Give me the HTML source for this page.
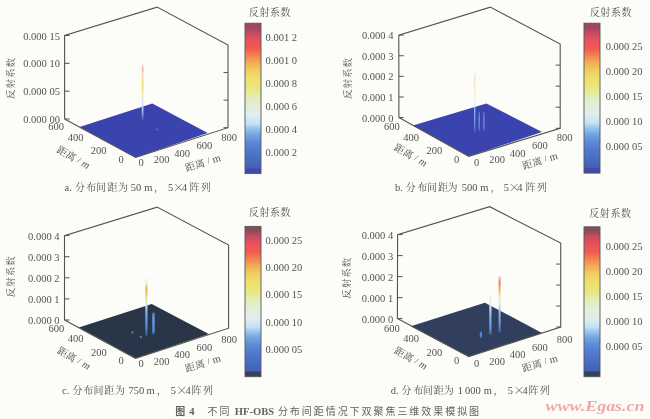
<!DOCTYPE html><html><head><meta charset="utf-8"><style>html,body{margin:0;padding:0;background:#fcfcf9;}svg{display:block;filter:blur(0.35px)}</style></head><body>
<svg style="font-family:'Liberation Serif', 'Noto Serif CJK SC', serif;fill:#50544e" width="650" height="419" viewBox="0 0 650 419">
<rect width="650" height="419" fill="#fcfcf9"/>
<defs>
<linearGradient id="cba" x1="0" y1="0" x2="0" y2="1">
<stop offset="0" stop-color="#a0485c"/>
<stop offset="0.03" stop-color="#a0485c"/>
<stop offset="0.06" stop-color="#be4c62"/>
<stop offset="0.09" stop-color="#d64e60"/>
<stop offset="0.12" stop-color="#ec5258"/>
<stop offset="0.17" stop-color="#f05a52"/>
<stop offset="0.22" stop-color="#f2884e"/>
<stop offset="0.27" stop-color="#f4b058"/>
<stop offset="0.32" stop-color="#f0d062"/>
<stop offset="0.37" stop-color="#eee06c"/>
<stop offset="0.44" stop-color="#e8e884"/>
<stop offset="0.49" stop-color="#e4ecb8"/>
<stop offset="0.55" stop-color="#e2eed8"/>
<stop offset="0.61" stop-color="#e0eef0"/>
<stop offset="0.67" stop-color="#c4e0f4"/>
<stop offset="0.7" stop-color="#98c4ee"/>
<stop offset="0.74" stop-color="#74a6e2"/>
<stop offset="0.79" stop-color="#5c8ad6"/>
<stop offset="0.85" stop-color="#4e78ca"/>
<stop offset="0.92" stop-color="#4669c0"/>
<stop offset="0.96" stop-color="#4262b8"/>
<stop offset="0.97" stop-color="#4448ac"/>
<stop offset="1" stop-color="#4448ac"/>
</linearGradient>
<linearGradient id="cbb" x1="0" y1="0" x2="0" y2="1">
<stop offset="0" stop-color="#a0485c"/>
<stop offset="0.03" stop-color="#a0485c"/>
<stop offset="0.06" stop-color="#be4c62"/>
<stop offset="0.09" stop-color="#d64e60"/>
<stop offset="0.12" stop-color="#ec5258"/>
<stop offset="0.17" stop-color="#f05a52"/>
<stop offset="0.22" stop-color="#f2884e"/>
<stop offset="0.27" stop-color="#f4b058"/>
<stop offset="0.32" stop-color="#f0d062"/>
<stop offset="0.37" stop-color="#eee06c"/>
<stop offset="0.44" stop-color="#e8e884"/>
<stop offset="0.49" stop-color="#e4ecb8"/>
<stop offset="0.55" stop-color="#e2eed8"/>
<stop offset="0.61" stop-color="#e0eef0"/>
<stop offset="0.67" stop-color="#c4e0f4"/>
<stop offset="0.7" stop-color="#98c4ee"/>
<stop offset="0.74" stop-color="#74a6e2"/>
<stop offset="0.79" stop-color="#5c8ad6"/>
<stop offset="0.85" stop-color="#4e78ca"/>
<stop offset="0.92" stop-color="#4669c0"/>
<stop offset="0.96" stop-color="#4262b8"/>
<stop offset="0.97" stop-color="#4448ac"/>
<stop offset="1" stop-color="#4448ac"/>
</linearGradient>
<linearGradient id="cbc" x1="0" y1="0" x2="0" y2="1">
<stop offset="0" stop-color="#8c4c56"/>
<stop offset="0.03" stop-color="#8c4c56"/>
<stop offset="0.06" stop-color="#be4c62"/>
<stop offset="0.09" stop-color="#d64e60"/>
<stop offset="0.12" stop-color="#ec5258"/>
<stop offset="0.17" stop-color="#f05a52"/>
<stop offset="0.22" stop-color="#f2884e"/>
<stop offset="0.27" stop-color="#f4b058"/>
<stop offset="0.32" stop-color="#f0d062"/>
<stop offset="0.37" stop-color="#eee06c"/>
<stop offset="0.44" stop-color="#e8e884"/>
<stop offset="0.49" stop-color="#e4ecb8"/>
<stop offset="0.55" stop-color="#e2eed8"/>
<stop offset="0.61" stop-color="#e0eef0"/>
<stop offset="0.67" stop-color="#c4e0f4"/>
<stop offset="0.7" stop-color="#98c4ee"/>
<stop offset="0.74" stop-color="#74a6e2"/>
<stop offset="0.79" stop-color="#5c8ad6"/>
<stop offset="0.85" stop-color="#4e78ca"/>
<stop offset="0.92" stop-color="#4669c0"/>
<stop offset="0.96" stop-color="#4262b8"/>
<stop offset="0.97" stop-color="#36425c"/>
<stop offset="1" stop-color="#36425c"/>
</linearGradient>
<linearGradient id="cbd" x1="0" y1="0" x2="0" y2="1">
<stop offset="0" stop-color="#8c4c56"/>
<stop offset="0.03" stop-color="#8c4c56"/>
<stop offset="0.06" stop-color="#be4c62"/>
<stop offset="0.09" stop-color="#d64e60"/>
<stop offset="0.12" stop-color="#ec5258"/>
<stop offset="0.17" stop-color="#f05a52"/>
<stop offset="0.22" stop-color="#f2884e"/>
<stop offset="0.27" stop-color="#f4b058"/>
<stop offset="0.32" stop-color="#f0d062"/>
<stop offset="0.37" stop-color="#eee06c"/>
<stop offset="0.44" stop-color="#e8e884"/>
<stop offset="0.49" stop-color="#e4ecb8"/>
<stop offset="0.55" stop-color="#e2eed8"/>
<stop offset="0.61" stop-color="#e0eef0"/>
<stop offset="0.67" stop-color="#c4e0f4"/>
<stop offset="0.7" stop-color="#98c4ee"/>
<stop offset="0.74" stop-color="#74a6e2"/>
<stop offset="0.79" stop-color="#5c8ad6"/>
<stop offset="0.85" stop-color="#4e78ca"/>
<stop offset="0.92" stop-color="#4669c0"/>
<stop offset="0.96" stop-color="#4262b8"/>
<stop offset="0.97" stop-color="#36425c"/>
<stop offset="1" stop-color="#36425c"/>
</linearGradient>
</defs>
<g id="pa"><polygon points="135.6,157.5 79.5,127 152.3,103.4 207.7,133" fill="#3b43ae"/><polyline points="64.6,119 64.6,35.5 157.1,7.1 228,45 228,127.7 135.6,157.5 64.6,119" fill="none" stroke="#51564a" stroke-width="1.1" stroke-linejoin="miter"/><line x1="64.6" y1="35.5" x2="69.6" y2="35.5" stroke="#51564a" stroke-width="1"/><text x="59.9" y="36.1" text-anchor="end" font-size="10.5" dominant-baseline="central">0.000 15</text><line x1="64.6" y1="63.33" x2="69.6" y2="63.33" stroke="#51564a" stroke-width="1"/><line x1="223.5" y1="72.57" x2="228" y2="72.57" stroke="#51564a" stroke-width="1"/><text x="59.9" y="63.93" text-anchor="end" font-size="10.5" dominant-baseline="central">0.000 10</text><line x1="64.6" y1="91.17" x2="69.6" y2="91.17" stroke="#51564a" stroke-width="1"/><line x1="223.5" y1="100.13" x2="228" y2="100.13" stroke="#51564a" stroke-width="1"/><text x="59.9" y="91.77" text-anchor="end" font-size="10.5" dominant-baseline="central">0.000 05</text><line x1="64.6" y1="119" x2="69.6" y2="119" stroke="#51564a" stroke-width="1"/><line x1="223.5" y1="127.7" x2="228" y2="127.7" stroke="#51564a" stroke-width="1"/><text x="59.9" y="119.6" text-anchor="end" font-size="10.5" dominant-baseline="central">0.000 00</text><rect x="245" y="23.2" width="16" height="150.4" fill="url(#cba)" stroke="#55585a" stroke-width="0.9"/><text x="265.5" y="37.2" font-size="10.5" dominant-baseline="central">0.001 2</text><text x="265.5" y="60.5" font-size="10.5" dominant-baseline="central">0.001 0</text><text x="265.5" y="83.4" font-size="10.5" dominant-baseline="central">0.000 8</text><text x="265.5" y="106.7" font-size="10.5" dominant-baseline="central">0.000 6</text><text x="265.5" y="129.8" font-size="10.5" dominant-baseline="central">0.000 4</text><text x="265.5" y="152.8" font-size="10.5" dominant-baseline="central">0.000 2</text><text x="270" y="11.1" text-anchor="middle" font-size="10" letter-spacing="0.6" dominant-baseline="central" style="font-family:'Noto Serif CJK SC', 'Liberation Serif', serif">反射系数</text><text transform="translate(9.65,77.9) rotate(-90)" text-anchor="middle" font-size="9.5" dominant-baseline="central" letter-spacing="1" style="font-family:'Noto Serif CJK SC', 'Liberation Serif', serif">反射系数</text><text x="56.2" y="126.8" text-anchor="middle" font-size="10.5" dominant-baseline="central">600</text><text x="75.5" y="137" text-anchor="middle" font-size="10.5" dominant-baseline="central">400</text><text x="98.7" y="150.6" text-anchor="middle" font-size="10.5" dominant-baseline="central">200</text><text x="121" y="159" text-anchor="middle" font-size="10.5" dominant-baseline="central">0</text><text x="141" y="162" text-anchor="middle" font-size="10.5" dominant-baseline="central">0</text><text x="161.5" y="159.5" text-anchor="middle" font-size="10.5" dominant-baseline="central">200</text><text x="182" y="153" text-anchor="middle" font-size="10.5" dominant-baseline="central">400</text><text x="204.3" y="145.4" text-anchor="middle" font-size="10.5" dominant-baseline="central">600</text><text x="229" y="137.4" text-anchor="middle" font-size="10.5" dominant-baseline="central">800</text><text transform="translate(73.8,156.8) rotate(30)" text-anchor="middle" font-size="10" dominant-baseline="central" style="font-family:'Noto Serif CJK SC', 'Liberation Serif', serif">距离<tspan font-size="8.5" style="font-family:'Liberation Serif', 'Noto Serif CJK SC', serif" dx="3">/</tspan><tspan font-size="10.5" font-style="italic" style="font-family:'Liberation Serif', 'Noto Serif CJK SC', serif" dx="3">m</tspan></text><text transform="translate(202.6,162) rotate(-16.5)" text-anchor="middle" font-size="10" dominant-baseline="central" style="font-family:'Noto Serif CJK SC', 'Liberation Serif', serif">距离<tspan font-size="8.5" style="font-family:'Liberation Serif', 'Noto Serif CJK SC', serif" dx="3">/</tspan><tspan font-size="10.5" font-style="normal" style="font-family:'Liberation Serif', 'Noto Serif CJK SC', serif" dx="3">m</tspan></text><text><tspan x="64.6" y="191" font-size="10.5" style="font-family:'Liberation Serif', 'Noto Serif CJK SC', serif">a.</tspan><tspan x="74.9 86.3 96 107.6 117.9" y="191" font-size="10" style="font-family:'Noto Serif CJK SC', 'Liberation Serif', serif">分布间距为</tspan><tspan x="130.7 135.95" y="191" font-size="10.5" style="font-family:'Liberation Serif', 'Noto Serif CJK SC', serif">50</tspan><tspan x="144.2" y="191" font-size="10.5" style="font-family:'Liberation Serif', 'Noto Serif CJK SC', serif">m</tspan><tspan x="153.9" y="191" font-size="10" style="font-family:'Noto Serif CJK SC', 'Liberation Serif', serif">，</tspan><tspan x="168" y="191" font-size="10.5" style="font-family:'Liberation Serif', 'Noto Serif CJK SC', serif">5</tspan><tspan x="172.5" y="192.2" font-size="12" style="font-family:'Noto Serif CJK SC', 'Liberation Serif', serif">×</tspan><tspan x="181.8" y="191" font-size="10.5" style="font-family:'Liberation Serif', 'Noto Serif CJK SC', serif">4</tspan><tspan x="189.5 200.7" y="191" font-size="10" style="font-family:'Noto Serif CJK SC', 'Liberation Serif', serif">阵列</tspan></text></g>
<g id="pb"><polygon points="468.8,156.3 412.9,125.5 486.4,103.4 542,132" fill="#3b43ae"/><polyline points="398.9,117.6 398.8,35.1 490.3,7.1 560.2,44 560.2,128.3 468.8,156.3 398.9,117.6" fill="none" stroke="#51564a" stroke-width="1.1" stroke-linejoin="miter"/><line x1="398.8" y1="35.1" x2="403.8" y2="35.1" stroke="#51564a" stroke-width="1"/><text x="393.4" y="35.7" text-anchor="end" font-size="10.5" dominant-baseline="central">0.000 4</text><line x1="398.8" y1="55.73" x2="403.8" y2="55.73" stroke="#51564a" stroke-width="1"/><line x1="555.7" y1="65.08" x2="560.2" y2="65.08" stroke="#51564a" stroke-width="1"/><text x="393.4" y="56.33" text-anchor="end" font-size="10.5" dominant-baseline="central">0.000 3</text><line x1="398.8" y1="76.35" x2="403.8" y2="76.35" stroke="#51564a" stroke-width="1"/><line x1="555.7" y1="86.15" x2="560.2" y2="86.15" stroke="#51564a" stroke-width="1"/><text x="393.4" y="76.95" text-anchor="end" font-size="10.5" dominant-baseline="central">0.000 2</text><line x1="398.8" y1="96.97" x2="403.8" y2="96.97" stroke="#51564a" stroke-width="1"/><line x1="555.7" y1="107.23" x2="560.2" y2="107.23" stroke="#51564a" stroke-width="1"/><text x="393.4" y="97.57" text-anchor="end" font-size="10.5" dominant-baseline="central">0.000 1</text><line x1="398.8" y1="117.6" x2="403.8" y2="117.6" stroke="#51564a" stroke-width="1"/><line x1="555.7" y1="128.3" x2="560.2" y2="128.3" stroke="#51564a" stroke-width="1"/><text x="393.4" y="118.2" text-anchor="end" font-size="10.5" dominant-baseline="central">0.000 0</text><rect x="584" y="23.2" width="16" height="149.9" fill="url(#cbb)" stroke="#55585a" stroke-width="0.9"/><text x="605.7" y="46.85" font-size="10.5" dominant-baseline="central">0.000 25</text><text x="605.7" y="71.7" font-size="10.5" dominant-baseline="central">0.000 20</text><text x="605.7" y="96.55" font-size="10.5" dominant-baseline="central">0.000 15</text><text x="605.7" y="121.4" font-size="10.5" dominant-baseline="central">0.000 10</text><text x="605.7" y="146.25" font-size="10.5" dominant-baseline="central">0.000 05</text><text x="610.9" y="11.3" text-anchor="middle" font-size="10" letter-spacing="0.6" dominant-baseline="central" style="font-family:'Noto Serif CJK SC', 'Liberation Serif', serif">反射系数</text><text transform="translate(346.5,78) rotate(-90)" text-anchor="middle" font-size="9.5" dominant-baseline="central" letter-spacing="1" style="font-family:'Noto Serif CJK SC', 'Liberation Serif', serif">反射系数</text><text x="391.8" y="126.8" text-anchor="middle" font-size="10.5" dominant-baseline="central">600</text><text x="411.1" y="137" text-anchor="middle" font-size="10.5" dominant-baseline="central">400</text><text x="434.3" y="150.6" text-anchor="middle" font-size="10.5" dominant-baseline="central">200</text><text x="456.6" y="159" text-anchor="middle" font-size="10.5" dominant-baseline="central">0</text><text x="476.6" y="162" text-anchor="middle" font-size="10.5" dominant-baseline="central">0</text><text x="497.1" y="159.5" text-anchor="middle" font-size="10.5" dominant-baseline="central">200</text><text x="517.6" y="153" text-anchor="middle" font-size="10.5" dominant-baseline="central">400</text><text x="539.9" y="145.4" text-anchor="middle" font-size="10.5" dominant-baseline="central">600</text><text x="564.6" y="137.4" text-anchor="middle" font-size="10.5" dominant-baseline="central">800</text><text transform="translate(411.1,154.5) rotate(30)" text-anchor="middle" font-size="10" dominant-baseline="central" style="font-family:'Noto Serif CJK SC', 'Liberation Serif', serif">距离<tspan font-size="8.5" style="font-family:'Liberation Serif', 'Noto Serif CJK SC', serif" dx="3">/</tspan><tspan font-size="10.5" font-style="italic" style="font-family:'Liberation Serif', 'Noto Serif CJK SC', serif" dx="3">m</tspan></text><text transform="translate(539.8,160.05) rotate(-16.5)" text-anchor="middle" font-size="10" dominant-baseline="central" style="font-family:'Noto Serif CJK SC', 'Liberation Serif', serif">距离<tspan font-size="8.5" style="font-family:'Liberation Serif', 'Noto Serif CJK SC', serif" dx="3">/</tspan><tspan font-size="10.5" font-style="normal" style="font-family:'Liberation Serif', 'Noto Serif CJK SC', serif" dx="3">m</tspan></text><text><tspan x="394.9" y="191" font-size="10.5" style="font-family:'Liberation Serif', 'Noto Serif CJK SC', serif">b.</tspan><tspan x="405.8 417.5 427.1 437.9 447.6" y="191" font-size="10" style="font-family:'Noto Serif CJK SC', 'Liberation Serif', serif">分布间距为</tspan><tspan x="461.8 467.05 472.3" y="191" font-size="10.5" style="font-family:'Liberation Serif', 'Noto Serif CJK SC', serif">500</tspan><tspan x="480.3" y="191" font-size="10.5" style="font-family:'Liberation Serif', 'Noto Serif CJK SC', serif">m</tspan><tspan x="490.5" y="191" font-size="10" style="font-family:'Noto Serif CJK SC', 'Liberation Serif', serif">，</tspan><tspan x="503.8" y="191" font-size="10.5" style="font-family:'Liberation Serif', 'Noto Serif CJK SC', serif">5</tspan><tspan x="508.3" y="192.2" font-size="12" style="font-family:'Noto Serif CJK SC', 'Liberation Serif', serif">×</tspan><tspan x="517.3" y="191" font-size="10.5" style="font-family:'Liberation Serif', 'Noto Serif CJK SC', serif">4</tspan><tspan x="525.4 536.9" y="191" font-size="10" style="font-family:'Noto Serif CJK SC', 'Liberation Serif', serif">阵列</tspan></text></g>
<g id="pc"><polygon points="135.5,358.3 78.8,327.6 151.7,304 208.8,334" fill="#293647"/><polyline points="64.5,320 64.5,235.6 157.1,207.1 228.6,245 228.6,328.2 135.5,358.3 64.5,320" fill="none" stroke="#51564a" stroke-width="1.1" stroke-linejoin="miter"/><line x1="64.5" y1="235.6" x2="69.5" y2="235.6" stroke="#51564a" stroke-width="1"/><text x="59.5" y="236.2" text-anchor="end" font-size="10.5" dominant-baseline="central">0.000 4</text><line x1="64.5" y1="256.7" x2="69.5" y2="256.7" stroke="#51564a" stroke-width="1"/><text x="59.5" y="257.3" text-anchor="end" font-size="10.5" dominant-baseline="central">0.000 3</text><line x1="64.5" y1="277.8" x2="69.5" y2="277.8" stroke="#51564a" stroke-width="1"/><text x="59.5" y="278.4" text-anchor="end" font-size="10.5" dominant-baseline="central">0.000 2</text><line x1="64.5" y1="298.9" x2="69.5" y2="298.9" stroke="#51564a" stroke-width="1"/><text x="59.5" y="299.5" text-anchor="end" font-size="10.5" dominant-baseline="central">0.000 1</text><line x1="64.5" y1="320" x2="69.5" y2="320" stroke="#51564a" stroke-width="1"/><text x="59.5" y="320.6" text-anchor="end" font-size="10.5" dominant-baseline="central">0.000 0</text><rect x="245" y="226.4" width="16" height="150.3" fill="url(#cbc)" stroke="#55585a" stroke-width="0.9"/><text x="265.5" y="240.85" font-size="10.5" dominant-baseline="central">0.000 25</text><text x="265.5" y="267.9" font-size="10.5" dominant-baseline="central">0.000 20</text><text x="265.5" y="294.95" font-size="10.5" dominant-baseline="central">0.000 15</text><text x="265.5" y="322" font-size="10.5" dominant-baseline="central">0.000 10</text><text x="265.5" y="349.05" font-size="10.5" dominant-baseline="central">0.000 05</text><text x="270" y="211.9" text-anchor="middle" font-size="10" letter-spacing="0.6" dominant-baseline="central" style="font-family:'Noto Serif CJK SC', 'Liberation Serif', serif">反射系数</text><text transform="translate(9.65,276.3) rotate(-90)" text-anchor="middle" font-size="9.5" dominant-baseline="central" letter-spacing="1" style="font-family:'Noto Serif CJK SC', 'Liberation Serif', serif">反射系数</text><text x="56.3" y="328.4" text-anchor="middle" font-size="10.5" dominant-baseline="central">600</text><text x="75.6" y="338.6" text-anchor="middle" font-size="10.5" dominant-baseline="central">400</text><text x="98.8" y="352.2" text-anchor="middle" font-size="10.5" dominant-baseline="central">200</text><text x="121.1" y="360.6" text-anchor="middle" font-size="10.5" dominant-baseline="central">0</text><text x="141.1" y="363.6" text-anchor="middle" font-size="10.5" dominant-baseline="central">0</text><text x="161.6" y="361.1" text-anchor="middle" font-size="10.5" dominant-baseline="central">200</text><text x="182.1" y="354.6" text-anchor="middle" font-size="10.5" dominant-baseline="central">400</text><text x="204.4" y="347" text-anchor="middle" font-size="10.5" dominant-baseline="central">600</text><text x="229.1" y="339" text-anchor="middle" font-size="10.5" dominant-baseline="central">800</text><text transform="translate(74.2,357.55) rotate(30)" text-anchor="middle" font-size="10" dominant-baseline="central" style="font-family:'Noto Serif CJK SC', 'Liberation Serif', serif">距离<tspan font-size="8.5" style="font-family:'Liberation Serif', 'Noto Serif CJK SC', serif" dx="3">/</tspan><tspan font-size="10.5" font-style="italic" style="font-family:'Liberation Serif', 'Noto Serif CJK SC', serif" dx="3">m</tspan></text><text transform="translate(202.6,362.65) rotate(-16.5)" text-anchor="middle" font-size="10" dominant-baseline="central" style="font-family:'Noto Serif CJK SC', 'Liberation Serif', serif">距离<tspan font-size="8.5" style="font-family:'Liberation Serif', 'Noto Serif CJK SC', serif" dx="3">/</tspan><tspan font-size="10.5" font-style="normal" style="font-family:'Liberation Serif', 'Noto Serif CJK SC', serif" dx="3">m</tspan></text><text><tspan x="62" y="393.6" font-size="10.5" style="font-family:'Liberation Serif', 'Noto Serif CJK SC', serif">c.</tspan><tspan x="72.6 83.6 93.4 104.3 114.9" y="393.6" font-size="10" style="font-family:'Noto Serif CJK SC', 'Liberation Serif', serif">分布间距为</tspan><tspan x="128.5 133.75 139" y="393.6" font-size="10.5" style="font-family:'Liberation Serif', 'Noto Serif CJK SC', serif">750</tspan><tspan x="146.5" y="393.6" font-size="10.5" style="font-family:'Liberation Serif', 'Noto Serif CJK SC', serif">m</tspan><tspan x="156.7" y="393.6" font-size="10" style="font-family:'Noto Serif CJK SC', 'Liberation Serif', serif">，</tspan><tspan x="170.8" y="393.6" font-size="10.5" style="font-family:'Liberation Serif', 'Noto Serif CJK SC', serif">5</tspan><tspan x="175.7" y="394.8" font-size="12" style="font-family:'Noto Serif CJK SC', 'Liberation Serif', serif">×</tspan><tspan x="185.4" y="393.6" font-size="10.5" style="font-family:'Liberation Serif', 'Noto Serif CJK SC', serif">4</tspan><tspan x="191.5 203.1" y="393.6" font-size="10" style="font-family:'Noto Serif CJK SC', 'Liberation Serif', serif">阵列</tspan></text></g>
<g id="pd"><polygon points="468.8,356.6 410.8,326.2 484.9,302.7 542,332.9" fill="#313e5e"/><polyline points="397.4,318.6 397.6,234.6 489.7,206.7 560.7,243.1 560.7,327 468.8,356.6 397.4,318.6" fill="none" stroke="#51564a" stroke-width="1.1" stroke-linejoin="miter"/><line x1="397.6" y1="234.6" x2="402.6" y2="234.6" stroke="#51564a" stroke-width="1"/><text x="393.2" y="235.2" text-anchor="end" font-size="10.5" dominant-baseline="central">0.000 4</text><line x1="397.6" y1="255.6" x2="402.6" y2="255.6" stroke="#51564a" stroke-width="1"/><line x1="556.2" y1="264.07" x2="560.7" y2="264.07" stroke="#51564a" stroke-width="1"/><text x="393.2" y="256.2" text-anchor="end" font-size="10.5" dominant-baseline="central">0.000 3</text><line x1="397.6" y1="276.6" x2="402.6" y2="276.6" stroke="#51564a" stroke-width="1"/><line x1="556.2" y1="285.05" x2="560.7" y2="285.05" stroke="#51564a" stroke-width="1"/><text x="393.2" y="277.2" text-anchor="end" font-size="10.5" dominant-baseline="central">0.000 2</text><line x1="397.6" y1="297.6" x2="402.6" y2="297.6" stroke="#51564a" stroke-width="1"/><line x1="556.2" y1="306.02" x2="560.7" y2="306.02" stroke="#51564a" stroke-width="1"/><text x="393.2" y="298.2" text-anchor="end" font-size="10.5" dominant-baseline="central">0.000 1</text><line x1="397.6" y1="318.6" x2="402.6" y2="318.6" stroke="#51564a" stroke-width="1"/><line x1="556.2" y1="327" x2="560.7" y2="327" stroke="#51564a" stroke-width="1"/><text x="393.2" y="319.2" text-anchor="end" font-size="10.5" dominant-baseline="central">0.000 0</text><rect x="584" y="226.8" width="16" height="149.9" fill="url(#cbd)" stroke="#55585a" stroke-width="0.9"/><text x="605.7" y="246.8" font-size="10.5" dominant-baseline="central">0.000 25</text><text x="605.7" y="271.8" font-size="10.5" dominant-baseline="central">0.000 20</text><text x="605.7" y="296.8" font-size="10.5" dominant-baseline="central">0.000 15</text><text x="605.7" y="321.8" font-size="10.5" dominant-baseline="central">0.000 10</text><text x="605.7" y="346.8" font-size="10.5" dominant-baseline="central">0.000 05</text><text x="610.4" y="212.4" text-anchor="middle" font-size="10" letter-spacing="0.6" dominant-baseline="central" style="font-family:'Noto Serif CJK SC', 'Liberation Serif', serif">反射系数</text><text transform="translate(346.4,277.7) rotate(-90)" text-anchor="middle" font-size="9.5" dominant-baseline="central" letter-spacing="1" style="font-family:'Noto Serif CJK SC', 'Liberation Serif', serif">反射系数</text><text x="391.8" y="328.4" text-anchor="middle" font-size="10.5" dominant-baseline="central">600</text><text x="411.1" y="338.6" text-anchor="middle" font-size="10.5" dominant-baseline="central">400</text><text x="434.3" y="352.2" text-anchor="middle" font-size="10.5" dominant-baseline="central">200</text><text x="456.6" y="360.6" text-anchor="middle" font-size="10.5" dominant-baseline="central">0</text><text x="476.6" y="363.6" text-anchor="middle" font-size="10.5" dominant-baseline="central">0</text><text x="497.1" y="361.1" text-anchor="middle" font-size="10.5" dominant-baseline="central">200</text><text x="517.6" y="354.6" text-anchor="middle" font-size="10.5" dominant-baseline="central">400</text><text x="539.9" y="347" text-anchor="middle" font-size="10.5" dominant-baseline="central">600</text><text x="564.6" y="339" text-anchor="middle" font-size="10.5" dominant-baseline="central">800</text><text transform="translate(411.3,357.55) rotate(30)" text-anchor="middle" font-size="10" dominant-baseline="central" style="font-family:'Noto Serif CJK SC', 'Liberation Serif', serif">距离<tspan font-size="8.5" style="font-family:'Liberation Serif', 'Noto Serif CJK SC', serif" dx="3">/</tspan><tspan font-size="10.5" font-style="italic" style="font-family:'Liberation Serif', 'Noto Serif CJK SC', serif" dx="3">m</tspan></text><text transform="translate(539.6,362.45) rotate(-16.5)" text-anchor="middle" font-size="10" dominant-baseline="central" style="font-family:'Noto Serif CJK SC', 'Liberation Serif', serif">距离<tspan font-size="8.5" style="font-family:'Liberation Serif', 'Noto Serif CJK SC', serif" dx="3">/</tspan><tspan font-size="10.5" font-style="normal" style="font-family:'Liberation Serif', 'Noto Serif CJK SC', serif" dx="3">m</tspan></text><text><tspan x="390.7" y="393.6" font-size="10.5" style="font-family:'Liberation Serif', 'Noto Serif CJK SC', serif">d.</tspan><tspan x="401.6 413.6 422.8 433.8 443.8" y="393.6" font-size="10" style="font-family:'Noto Serif CJK SC', 'Liberation Serif', serif">分布间距为</tspan><tspan x="457.8" y="393.6" font-size="10.5" style="font-family:'Liberation Serif', 'Noto Serif CJK SC', serif">1</tspan><tspan x="465 470.25 475.5" y="393.6" font-size="10.5" style="font-family:'Liberation Serif', 'Noto Serif CJK SC', serif">000</tspan><tspan x="483.8" y="393.6" font-size="10.5" style="font-family:'Liberation Serif', 'Noto Serif CJK SC', serif">m</tspan><tspan x="493.6" y="393.6" font-size="10" style="font-family:'Noto Serif CJK SC', 'Liberation Serif', serif">，</tspan><tspan x="507.8" y="393.6" font-size="10.5" style="font-family:'Liberation Serif', 'Noto Serif CJK SC', serif">5</tspan><tspan x="513" y="394.8" font-size="12" style="font-family:'Noto Serif CJK SC', 'Liberation Serif', serif">×</tspan><tspan x="522.4" y="393.6" font-size="10.5" style="font-family:'Liberation Serif', 'Noto Serif CJK SC', serif">4</tspan><tspan x="528.5 539.7" y="393.6" font-size="10" style="font-family:'Noto Serif CJK SC', 'Liberation Serif', serif">阵列</tspan></text></g>
<linearGradient id="sa1" x1="0" y1="0" x2="0" y2="1"><stop offset="0" stop-color="#f0a090" stop-opacity="0.4"/><stop offset="0.1" stop-color="#ec9c8c" stop-opacity="0.85"/><stop offset="0.18" stop-color="#f0c0a0" stop-opacity="0.6"/><stop offset="0.26" stop-color="#eedc80" stop-opacity="0.9"/><stop offset="0.33" stop-color="#ece070" stop-opacity="1"/><stop offset="0.47" stop-color="#eae47c" stop-opacity="1"/><stop offset="0.55" stop-color="#e8eed0" stop-opacity="1"/><stop offset="0.7" stop-color="#d0e6f4" stop-opacity="1"/><stop offset="0.85" stop-color="#9cc4ee" stop-opacity="1"/><stop offset="1" stop-color="#7aa6e6" stop-opacity="0.2"/></linearGradient><rect x="141.75" y="64.5" width="1.7" height="55.5" fill="url(#sa1)" opacity="1"/><linearGradient id="sb1" x1="0" y1="0" x2="0" y2="1"><stop offset="0" stop-color="#f0b0a0" stop-opacity="0.4"/><stop offset="0.15" stop-color="#f2d0a0" stop-opacity="0.8"/><stop offset="0.3" stop-color="#f0e6b0" stop-opacity="0.9"/><stop offset="0.5" stop-color="#e6f0f0" stop-opacity="1"/><stop offset="0.65" stop-color="#a8cef0" stop-opacity="1"/><stop offset="0.85" stop-color="#80b0ea" stop-opacity="1"/><stop offset="1" stop-color="#6a9ce0" stop-opacity="0.5"/></linearGradient><rect x="474" y="73.4" width="1.4" height="58.6" fill="url(#sb1)" opacity="0.75"/><linearGradient id="sb2" x1="0" y1="0" x2="0" y2="1"><stop offset="0" stop-color="#80b0ea" stop-opacity="0.6"/><stop offset="0.3" stop-color="#90bcee" stop-opacity="1"/><stop offset="0.8" stop-color="#7aa8e6" stop-opacity="1"/><stop offset="1" stop-color="#6a98e0" stop-opacity="0.5"/></linearGradient><rect x="478.55" y="111.9" width="1.3" height="19.2" fill="url(#sb2)" opacity="0.7"/><linearGradient id="sb3" x1="0" y1="0" x2="0" y2="1"><stop offset="0" stop-color="#80b0ea" stop-opacity="0.6"/><stop offset="0.3" stop-color="#90bcee" stop-opacity="1"/><stop offset="0.8" stop-color="#7aa8e6" stop-opacity="1"/><stop offset="1" stop-color="#6a98e0" stop-opacity="0.5"/></linearGradient><rect x="483.25" y="111.9" width="1.3" height="19.2" fill="url(#sb3)" opacity="0.7"/><linearGradient id="sc1" x1="0" y1="0" x2="0" y2="1"><stop offset="0" stop-color="#f4eee8" stop-opacity="0.2"/><stop offset="0.12" stop-color="#f2d8b0" stop-opacity="0.6"/><stop offset="0.2" stop-color="#f0a860" stop-opacity="1"/><stop offset="0.3" stop-color="#f0c860" stop-opacity="1"/><stop offset="0.38" stop-color="#e8e8a0" stop-opacity="1"/><stop offset="0.48" stop-color="#d0e6f4" stop-opacity="1"/><stop offset="0.6" stop-color="#80b0ee" stop-opacity="1"/><stop offset="0.85" stop-color="#5a8ce0" stop-opacity="1"/><stop offset="1" stop-color="#4a7ad8" stop-opacity="0.6"/></linearGradient><rect x="145.3" y="276.5" width="2.2" height="59" fill="url(#sc1)" opacity="1"/><linearGradient id="sc2" x1="0" y1="0" x2="0" y2="1"><stop offset="0" stop-color="#70a0e8" stop-opacity="0.6"/><stop offset="0.2" stop-color="#6c9ce8" stop-opacity="1"/><stop offset="0.85" stop-color="#5a8ae0" stop-opacity="1"/><stop offset="1" stop-color="#4a7ad8" stop-opacity="0.5"/></linearGradient><rect x="152.3" y="312.7" width="2.4" height="21.7" fill="url(#sc2)" opacity="1"/><ellipse cx="132.5" cy="332.3" rx="1.2" ry="1.4" fill="#4a74d0"/><ellipse cx="140.9" cy="337" rx="1.2" ry="1.2" fill="#4a74d0"/><linearGradient id="sd1" x1="0" y1="0" x2="0" y2="1"><stop offset="0" stop-color="#f09090" stop-opacity="0.6"/><stop offset="0.1" stop-color="#e87870" stop-opacity="1"/><stop offset="0.22" stop-color="#f0b060" stop-opacity="1"/><stop offset="0.35" stop-color="#ece4a0" stop-opacity="1"/><stop offset="0.47" stop-color="#e0eef0" stop-opacity="1"/><stop offset="0.62" stop-color="#90bcf0" stop-opacity="1"/><stop offset="0.85" stop-color="#6a9ae6" stop-opacity="1"/><stop offset="1" stop-color="#5080d8" stop-opacity="0.6"/></linearGradient><rect x="498.6" y="276.5" width="2" height="56" fill="url(#sd1)" opacity="1"/><linearGradient id="sd2" x1="0" y1="0" x2="0" y2="1"><stop offset="0" stop-color="#f0e6b0" stop-opacity="0.4"/><stop offset="0.15" stop-color="#eef0d8" stop-opacity="0.8"/><stop offset="0.3" stop-color="#c8e0f4" stop-opacity="1"/><stop offset="0.55" stop-color="#88b4ee" stop-opacity="1"/><stop offset="0.85" stop-color="#6494e4" stop-opacity="1"/><stop offset="1" stop-color="#5080d8" stop-opacity="0.6"/></linearGradient><rect x="489.3" y="295" width="2.2" height="39.5" fill="url(#sd2)" opacity="1"/><linearGradient id="sd3" x1="0" y1="0" x2="0" y2="1"><stop offset="0" stop-color="#5a8ae0" stop-opacity="0.7"/><stop offset="0.5" stop-color="#5a8ae0" stop-opacity="1"/><stop offset="1" stop-color="#4a7ad8" stop-opacity="0.7"/></linearGradient><rect x="479.8" y="331.6" width="2.2" height="6.2" fill="url(#sd3)" opacity="1"/><ellipse cx="157" cy="129.4" rx="1" ry="0.9" fill="#6a78c8"/>
<text y="410.5" dominant-baseline="central" fill="#60645e"><tspan x="175.3" font-size="10" font-weight="bold" style="font-family:'Liberation Sans', 'Noto Sans CJK SC', sans-serif">图</tspan><tspan x="189.2" font-size="10.5" font-weight="bold" style="font-family:'Liberation Serif', 'Noto Serif CJK SC', serif">4</tspan><tspan x="207.6" font-size="10" letter-spacing="2" style="font-family:'Liberation Sans', 'Noto Sans CJK SC', sans-serif">不同</tspan><tspan x="234.8" font-size="10.5" font-weight="bold" textLength="39.4" lengthAdjust="spacingAndGlyphs" style="font-family:'Liberation Serif', 'Noto Serif CJK SC', serif">HF-OBS</tspan><tspan x="277.9" font-size="10" letter-spacing="1.95" style="font-family:'Liberation Sans', 'Noto Sans CJK SC', sans-serif">分布间距情况下双聚焦三维效果模拟图</tspan></text>
<text x="545.5" y="411.4" font-size="15" fill="#eeaaaa" font-style="italic" font-weight="bold" textLength="99" lengthAdjust="spacingAndGlyphs" style="font-family:'Liberation Serif', 'Noto Serif CJK SC', serif">www.Egas.cn</text>
</svg></body></html>
